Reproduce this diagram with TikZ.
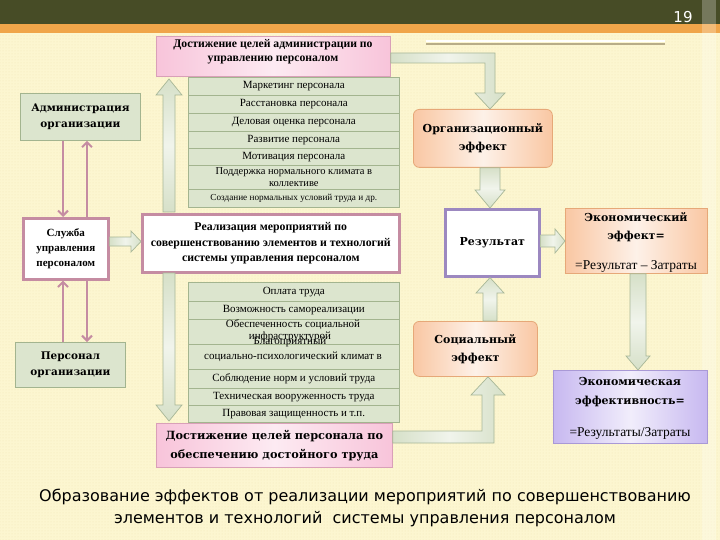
\documentclass[tikz,border=0pt]{standalone}
\usepackage{fontspec}
\setmainfont{Liberation Serif}
\newfontfamily\wideserif{DejaVu Serif}
\newfontfamily\capfont{DejaVu Sans}
\usetikzlibrary{arrows.meta,patterns}
\definecolor{bgyellow}{HTML}{FCF6D0}
\definecolor{dotc}{HTML}{F1E8B8}
\definecolor{olivebar}{HTML}{474C26}
\definecolor{orangebar}{HTML}{F0A54A}
\definecolor{grfill}{HTML}{DCE5CE}
\definecolor{grborder}{HTML}{A3B48F}
\definecolor{pinkfill}{HTML}{F8C4DA}
\definecolor{pinkborder}{HTML}{D9A0B8}
\definecolor{mauve}{HTML}{C58CA2}
\definecolor{arfill}{HTML}{D6E0C8}
\definecolor{arborder}{HTML}{A8B797}
\definecolor{peach}{HTML}{F9C7A3}
\definecolor{peachborder}{HTML}{E6A878}
\definecolor{lavender}{HTML}{C7B8F0}
\definecolor{lavborder}{HTML}{A999D6}
\definecolor{resborder}{HTML}{9C88C0}
\definecolor{lineolive}{HTML}{B8AD88}
\begin{document}
\begin{tikzpicture}[x=1pt,y=-1pt,
  box/.style={inner sep=0pt, anchor=north west, align=center},
  greenrow/.style={box, draw=grborder, line width=0.6pt, fill=grfill, minimum width=211pt, minimum height=#1,
     font=\fontsize{11}{11}\selectfont},
  pinkbox/.style={box, draw=pinkborder, line width=0.8pt, left color=pinkfill, right color=pinkfill, middle color=pinkfill!35!white},
  greenbox/.style={box, draw=grborder, line width=0.8pt, fill=grfill},
  mauvebox/.style={box, draw=mauve, line width=2.6pt, fill=white},
  peachbox/.style={box, draw=peachborder, line width=0.8pt, left color=peach, right color=peach, middle color=peach!25!white},
  lavbox/.style={box, draw=lavborder, line width=0.8pt, left color=lavender, right color=lavender, middle color=lavender!25!white},
  varrow/.style={draw=arborder, line width=0.7pt, top color=arfill, bottom color=arfill, middle color=arfill!35!white},
  harrow/.style={draw=arborder, line width=0.7pt, left color=arfill, right color=arfill, middle color=arfill!35!white},
  pinkarrow/.style={draw=mauve, line width=2.6pt, -{Straight Barb[length=5pt,width=10pt,line width=2pt]}},
  hdrfont/.style={font=\wideserif\bfseries\fontsize{11}{18}\selectfont},
  listtxt/.style={font=\fontsize{11}{11}\selectfont, inner sep=0pt},
]
\useasboundingbox (0,0) rectangle (720,540);
% background
\fill[bgyellow] (0,0) rectangle (720,540);
\fill[pattern=dots, pattern color=dotc] (0,34) rectangle (720,540);
\fill[olivebar] (0,0) rectangle (720,24);
\fill[orangebar] (0,24) rectangle (720,33);
\fill[white, opacity=0.25] (702,0) rectangle (716,540);
\draw[white, line width=1.4pt] (426,41) -- (665,41);
\draw[lineolive, line width=1.2pt] (426,44) -- (665,44);
\node[text=white, font=\capfont\fontsize{15}{15}\selectfont] (pg) at (683,17) {19};

% top pink box
\node[pinkbox, minimum width=234pt, minimum height=40pt] (admgoal) at (156,36) {};
\node[font=\bfseries\fontsize{11.7}{14}\selectfont, align=center, anchor=north, inner sep=0pt] (admgoaltxt) at (273,39.5)
  {Достижение целей администрации по\\управлению персоналом};

% top list
\node[greenrow=18pt] (t1) at (188,77) {Маркетинг персонала};
\node[greenrow=18pt] (t2) at (188,95) {Расстановка персонала};
\node[greenrow=18pt] (t3) at (188,113) {Деловая оценка персонала};
\node[greenrow=17pt] (t4) at (188,131) {Развитие персонала};
\node[greenrow=17pt] (t5) at (188,148) {Мотивация персонала};
\node[greenrow=24pt, font=\fontsize{10.5}{12}\selectfont] (t6) at (188,165) {Поддержка нормального климата в\\коллективе};
\node[greenrow=18pt, font=\fontsize{9.2}{10}\selectfont] (t7) at (188,189) {Создание нормальных условий труда и др.};

% middle box
\node[mauvebox, minimum width=257pt, minimum height=58pt, font=\bfseries\fontsize{11.8}{15.5}\selectfont] (real) at (141,213)
  {Реализация мероприятий по\\совершенствованию элементов и технологий\\системы управления персоналом};

% bottom list
\node[greenrow=19pt] (b1) at (188,282) {Оплата труда};
\node[greenrow=18pt] (b2) at (188,301) {Возможность самореализации};
\node[greenrow=25pt] (b3) at (188,319) {};
\node[greenrow=25pt] (b4) at (188,344) {};
\node[greenrow=19pt] (b5) at (188,369) {Соблюдение норм и условий труда};
\node[greenrow=17pt] (b6) at (188,388) {Техническая вооруженность труда};
\node[greenrow=17pt] (b7) at (188,405) {Правовая защищенность и т.п.};
\node[listtxt] (b3a) at (293,325) {Обеспеченность социальной};
\node[listtxt] (b3b) at (290,336.5) {инфраструктурой};
\node[listtxt] (b4a) at (290,341.5) {Благоприятный};
\node[listtxt] (b4b) at (293,357) {социально-психологический климат в};

% bottom pink box
\node[pinkbox, minimum width=236pt, minimum height=44pt, font=\wideserif\bfseries\fontsize{11.3}{19}\selectfont] (persgoal) at (156,423)
  {Достижение целей персонала по\\обеспечению достойного труда};

% vertical double arrows
\draw[varrow] (163,212) -- (163,95) -- (156,95) -- (169,79) -- (182,95) -- (175,95) -- (175,212) -- cycle;
\draw[varrow] (163,273) -- (175,273) -- (175,405) -- (182,405) -- (169,421) -- (156,405) -- (163,405) -- cycle;

% left boxes
\node[greenbox, minimum width=120pt, minimum height=47pt, font=\wideserif\bfseries\fontsize{10.5}{16}\selectfont] (adm) at (20,93)
  {Администрация\\организации};
\node[mauvebox, minimum width=85pt, minimum height=61pt, font=\bfseries\fontsize{11}{15}\selectfont] (sl) at (22,217)
  {Служба\\управления\\персоналом};
\node[greenbox, minimum width=110pt, minimum height=45pt, font=\wideserif\bfseries\fontsize{10.5}{16}\selectfont] (pers) at (15,342)
  {Персонал\\организации};

\draw[pinkarrow] (63,0 |- adm.south) -- (63,0 |- sl.north);
\draw[pinkarrow] (87,0 |- sl.north) -- (87,0 |- adm.south);
\draw[pinkarrow] (63,0 |- pers.north) -- (63,0 |- sl.south);
\draw[pinkarrow] (87,0 |- sl.south) -- (87,0 |- pers.north);

% arrow sl -> real
\draw[harrow] (sl.east |- 0,237) -- (131,237) -- (131,231) -- (real.west |- 0,241.5) -- (131,252) -- (131,246) -- (sl.east |- 0,246) -- cycle;

% right side boxes
\node[peachbox, rounded corners=6pt, minimum width=139pt, minimum height=58pt, hdrfont] (org) at (413,109)
  {Организационный\\эффект};
\node[mauvebox, draw=resborder, minimum width=94pt, minimum height=67pt, font=\wideserif\bfseries\fontsize{11}{13}\selectfont] (res) at (444,208)
  {Результат};
\node[peachbox, rounded corners=6pt, minimum width=124pt, minimum height=55pt, hdrfont] (soc) at (413,321)
  {Социальный\\эффект};
\node[peachbox, minimum width=142pt, minimum height=65pt] (econ) at (565,208) {};
\node[hdrfont, align=center, inner sep=0pt, anchor=north] (econt) at (636,212) {Экономический\\эффект=};
\node[font=\fontsize{13.5}{13.5}\selectfont, inner sep=0pt] (econf) at (636,266) {=Результат – Затраты};
\node[lavbox, minimum width=154pt, minimum height=73pt] (eff) at (553,370) {};
\node[hdrfont, align=center, inner sep=0pt, anchor=north, font=\wideserif\bfseries\fontsize{11}{19.5}\selectfont] (efft) at (630,377) {Экономическая\\эффективность=};
\node[font=\fontsize{13.5}{13.5}\selectfont, inner sep=0pt] (efff) at (630,433) {=Результаты/Затраты};

% top L arrow admgoal -> org
\draw[harrow] (admgoal.east |- 0,53) -- (495,53) -- (495,93) -- (505,93) -- (490,0 |- org.north) -- (475,93) -- (485,93) -- (485,63) -- (admgoal.east |- 0,63) -- cycle;
% org -> res
\draw[varrow] (480,0 |- org.south) -- (500,0 |- org.south) -- (500,190) -- (505,190) -- (490,0 |- res.north) -- (475,190) -- (480,190) -- cycle;
% soc -> res
\draw[varrow] (483,0 |- soc.north) -- (497,0 |- soc.north) -- (497,293) -- (504,293) -- (490,0 |- res.south) -- (476,293) -- (483,293) -- cycle;
% bottom L arrow persgoal -> soc
\draw[harrow] (persgoal.east |- 0,431) -- (482,431) -- (482,395) -- (471,395) -- (488,0 |- soc.south) -- (505,395) -- (494,395) -- (494,443) -- (persgoal.east |- 0,443) -- cycle;
% res -> econ
\draw[harrow] (res.east |- 0,235) -- (555,235) -- (555,229) -- (econ.west |- 0,241) -- (555,253) -- (555,247) -- (res.east |- 0,247) -- cycle;
% econ -> eff
\draw[varrow] (630,0 |- econ.south) -- (646,0 |- econ.south) -- (646,356) -- (650,356) -- (638,0 |- eff.north) -- (626,356) -- (630,356) -- cycle;

% caption
\node[font=\capfont\fontsize{16}{22}\selectfont, align=center] (cap) at (365,508)
  {Образование эффектов от реализации мероприятий по совершенствованию\\элементов и технологий\ \ системы управления персоналом};
\end{tikzpicture}
\end{document}
